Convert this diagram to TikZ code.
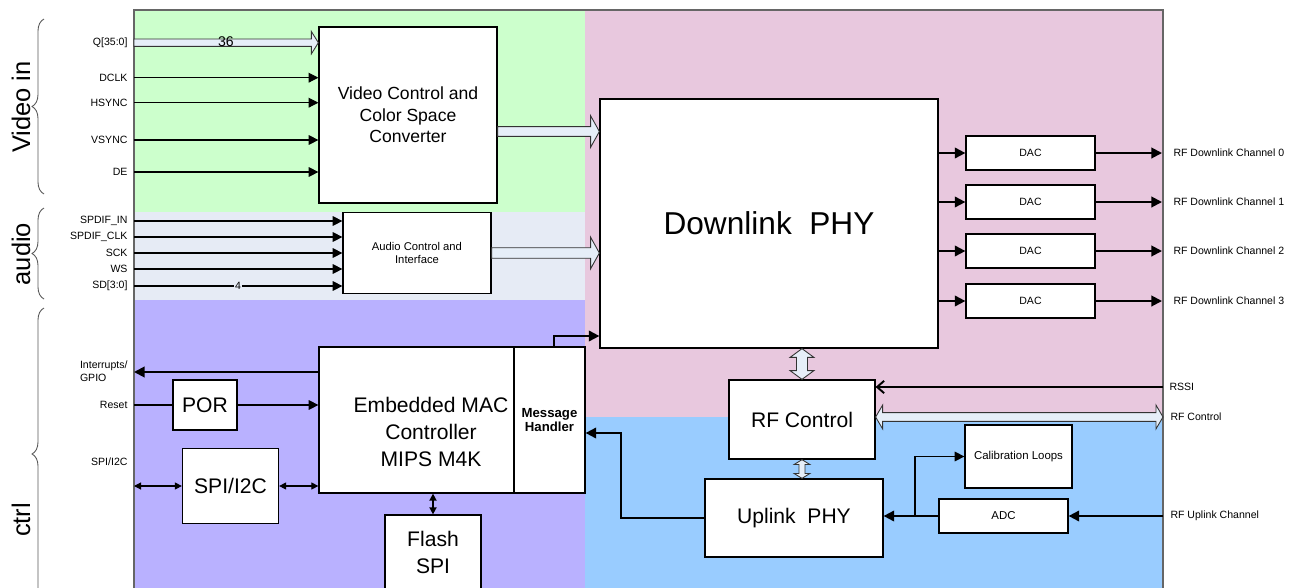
\documentclass[tikz,border=0pt]{standalone}
\usepackage{fontspec}
\setmainfont{Liberation Sans}
\usetikzlibrary{arrows.meta, decorations.pathreplacing, calc, positioning}

\definecolor{videobg}{HTML}{CCFFCC}
\definecolor{audiobg}{HTML}{E6EBF5}
\definecolor{ctrlbg}{HTML}{B9B1FF}
\definecolor{dlbg}{HTML}{E8C8DE}
\definecolor{ulbg}{HTML}{99CCFF}
\definecolor{busfill}{HTML}{E6EEF8}

% hollow bus arrows: #1 from, #2 to, #3 shaft half, #4 head half, #5 head length
\newcommand{\hbus}[5]{%
  \path[bus] let \p1=(#1), \p2=(#2) in
    (\x1,\y1+#3) -- (\x2-#5,\y1+#3) -- (\x2-#5,\y1+#4) -- (\x2,\y1)
    -- (\x2-#5,\y1-#4) -- (\x2-#5,\y1-#3) -- (\x1,\y1-#3) -- cycle;}
\newcommand{\hdbus}[5]{%
  \path[bus] let \p1=(#1), \p2=(#2) in
    (\x1,\y1) -- (\x1+#5,\y1+#4) -- (\x1+#5,\y1+#3) -- (\x2-#5,\y1+#3)
    -- (\x2-#5,\y1+#4) -- (\x2,\y1) -- (\x2-#5,\y1-#4) -- (\x2-#5,\y1-#3)
    -- (\x1+#5,\y1-#3) -- (\x1+#5,\y1-#4) -- cycle;}
\newcommand{\vdbus}[5]{%
  \path[bus] let \p1=(#1), \p2=(#2) in
    (\x1,\y1) -- (\x1+#4,\y1-#5) -- (\x1+#3,\y1-#5) -- (\x1+#3,\y2+#5)
    -- (\x1+#4,\y2+#5) -- (\x1,\y2) -- (\x1-#4,\y2+#5) -- (\x1-#3,\y2+#5)
    -- (\x1-#3,\y1-#5) -- (\x1-#4,\y1-#5) -- cycle;}

\begin{document}
\begin{tikzpicture}[x=0.2mm, y=-0.2mm]
\tikzstyle{block} = [rectangle, draw, fill=white, line width=0.7pt, inner sep=1pt, align=center]
\tikzstyle{dacbox} = [block, minimum width=25.8mm, minimum height=6.8mm, font={\fontsize{6}{7}\selectfont}]
\tikzstyle{sig} = [draw, line width=0.6pt, -{Triangle[length=5.5pt, width=5.5pt]}]
\tikzstyle{thk} = [draw, line width=1.1pt, -{Triangle[length=6pt, width=6pt]}]
\tikzstyle{dsig} = [draw, line width=0.6pt, {Triangle[length=4pt, width=4pt]}-{Triangle[length=4pt, width=4pt]}]
\tikzstyle{bus} = [draw=black!80, fill=busfill, line width=0.5pt]
\tikzstyle{lbl} = [font={\fontsize{6}{7}\selectfont}, inner xsep=3.5pt, inner ysep=0pt]
\tikzstyle{sidelbl} = [font={\fontsize{14.5}{16}\selectfont}, rotate=90]
\tikzstyle{bracestyle} = [draw=black!65, line width=0.5pt, decorate, decoration={brace, amplitude=2.4mm}]

\useasboundingbox (0,0) rectangle (1300,588);

% regions
\fill[videobg] (134,10) rectangle (585,212);
\fill[audiobg] (134,212) rectangle (585,300);
\fill[ctrlbg] (134,300) rectangle (585,588);
\fill[dlbg] (585,10) rectangle (1163,417);
\fill[ulbg] (585,417) rectangle (1163,588);
\draw[black!60, line width=0.8pt] (134,590) -- (134,10) -- (1163,10) -- (1163,590);

% group braces
\draw[bracestyle] (44,194) -- (44,19);
\draw[bracestyle] (44,299) -- (44,208);
\draw[bracestyle] (44,600) -- (44,308);
\node[sidelbl] (vidlbl) at (21,107) {Video in};
\node[sidelbl] (audlbl) at (21,254) {audio};
\node[sidelbl] (ctrllbl) at (21,520) {ctrl};

% video in
\node[block, minimum width=35.6mm, minimum height=35.2mm, font={\fontsize{10}{12.2}\selectfont}] (vcc) at (408,115) {Video Control and\\Color Space\\Converter};
\node[lbl, anchor=east] (qin) at (134,42.7) {Q[35:0]};
\node[lbl, anchor=east] (dclk) at (134,77.7) {DCLK};
\node[lbl, anchor=east] (hsync) at (134,102.7) {HSYNC};
\node[lbl, anchor=east] (vsync) at (134,140) {VSYNC};
\node[lbl, anchor=east] (de) at (134,172) {DE};
\hbus{qin.east}{vcc.west |- qin.east}{2.1pt}{6.4pt}{4pt}
\node[font={\fontsize{8}{9}\selectfont}, inner sep=0pt] (qwidth) at (226,42) {36};
\path[sig] (dclk.east) -- (vcc.west |- dclk.east);
\path[sig] (hsync.east) -- (vcc.west |- hsync.east);
\path[sig] (vsync.east) -- (vcc.west |- vsync.east);
\path[sig] (de.east) -- (vcc.west |- de.east);

% audio
\node[block, minimum width=29.6mm, minimum height=16.2mm, font={\fontsize{6.4}{7.6}\selectfont}] (aci) at (417,253) {Audio Control and\\Interface};
\node[lbl, anchor=east] (spdin) at (134,221) {SPDIF\_IN};
\node[lbl, anchor=east] (spdclk) at (134,237) {SPDIF\_CLK};
\node[lbl, anchor=east] (sck) at (134,253) {SCK};
\node[lbl, anchor=east] (ws) at (134,269) {WS};
\node[lbl, anchor=east] (sd) at (134,286) {SD[3:0]};
\path[sig] (spdin.east) -- (aci.west |- spdin.east);
\path[sig] (spdclk.east) -- (aci.west |- spdclk.east);
\path[sig] (sck.east) -- (aci.west |- sck.east);
\path[sig] (ws.east) -- (aci.west |- ws.east);
\path[sig] (sd.east) -- (aci.west |- sd.east);
\node[lbl, fill=audiobg, inner xsep=0.6pt, inner ysep=0.3pt] (sdw) at (238,286) {4};

% downlink
\node[block, minimum width=67.6mm, minimum height=49.8mm, font={\fontsize{18}{20}\selectfont}] (dlphy) at (769,223.5) {Downlink~~PHY};
\hbus{vcc.east |- 0,131.5}{dlphy.west |- 0,131.5}{2.8pt}{9pt}{5pt}
\hbus{aci.east}{dlphy.west |- aci.east}{3pt}{9pt}{5pt}

\node[dacbox] (dac0) at (1030.5,153) {DAC};
\node[dacbox] (dac1) at (1030.5,202) {DAC};
\node[dacbox] (dac2) at (1030.5,251) {DAC};
\node[dacbox] (dac3) at (1030.5,301) {DAC};
\coordinate (rfd0) at (1162,153);
\coordinate (rfd1) at (1162,202);
\coordinate (rfd2) at (1162,251);
\coordinate (rfd3) at (1162,301);
\path[thk] (dlphy.east |- dac0.west) -- (dac0.west);
\path[thk] (dlphy.east |- dac1.west) -- (dac1.west);
\path[thk] (dlphy.east |- dac2.west) -- (dac2.west);
\path[thk] (dlphy.east |- dac3.west) -- (dac3.west);
\path[thk] (dac0.east) -- (rfd0);
\path[thk] (dac1.east) -- (rfd1);
\path[thk] (dac2.east) -- (rfd2);
\path[thk] (dac3.east) -- (rfd3);
\node[lbl, anchor=west] (rfd0l) at (1167,153) {RF Downlink Channel 0};
\node[lbl, anchor=west] (rfd1l) at (1167,202) {RF Downlink Channel 1};
\node[lbl, anchor=west] (rfd2l) at (1167,251) {RF Downlink Channel 2};
\node[lbl, anchor=west] (rfd3l) at (1167,301) {RF Downlink Channel 3};

% control
\node[block, minimum width=39mm, minimum height=29.2mm] (mac) at (416.5,420) {};
\node[font={\fontsize{12}{15.3}\selectfont}, align=center] (mactxt) at (431,432) {Embedded MAC\\Controller\\MIPS M4K};
\node[block, minimum width=14.2mm, minimum height=29.2mm, font={\bfseries\fontsize{7.5}{8.5}\selectfont}] (msgh) at (549.5,420) {Message\\Handler};

\node[lbl, anchor=east, align=left, font={\fontsize{6}{7.4}\selectfont}] (intr) at (134,371.5) {Interrupts/\\GPIO};
\coordinate (intc) at (134,372);
\path[thk] (mac.west |- intc) -- (intc);

\node[lbl, anchor=east] (rst) at (134,405) {Reset};
\node[block, minimum width=12.8mm, minimum height=10mm, font={\fontsize{12}{14}\selectfont}] (por) at (205,405) {POR};
\draw[line width=0.6pt] (rst.east) -- (por.west);
\path[sig] (por.east) -- (mac.west |- por.east);

\node[lbl, anchor=east] (spil) at (134,462) {SPI/I2C};
\node[block, minimum width=19.2mm, minimum height=15mm, font={\fontsize{12}{14}\selectfont}] (spi) at (230.5,486) {SPI/I2C};
\coordinate (spic) at (134,486);
\path[dsig] (spic) -- (spi.west);
\path[dsig] (spi.east) -- (mac.west |- spi.east);

\node[block, minimum width=19.2mm, minimum height=15mm, font={\fontsize{12}{15.3}\selectfont}] (flash) at (433,552.5) {Flash\\SPI};
\path[dsig, line width=0.9pt] (mac.south -| flash.north) -- (flash.north);

\path[thk] ([xshift=0.9mm]msgh.north) |- (dlphy.west |- 0,336);

% RF / uplink
\node[block, minimum width=29.2mm, minimum height=15.8mm, font={\fontsize{12}{14}\selectfont}] (rfc) at (802,419.5) {RF Control};
\node[block, minimum width=35.6mm, minimum height=15.6mm, font={\fontsize{12}{14}\selectfont}] (upphy) at (794,518) {Uplink~~PHY};
\node[block, minimum width=21.4mm, minimum height=12.6mm, font={\fontsize{6.5}{7.5}\selectfont}] (cal) at (1018.5,456.5) {Calibration Loops};
\node[block, minimum width=25.8mm, minimum height=6.8mm, font={\fontsize{6.5}{7.5}\selectfont}] (adc) at (1003.5,516) {ADC};

\vdbus{rfc.north |- dlphy.south}{rfc.north}{3.1pt}{6.8pt}{5pt}
\vdbus{rfc.south}{upphy.north -| rfc.south}{1.7pt}{4.5pt}{2.8pt}
\coordinate (rfcc) at (1163,417);
\hdbus{rfc.east |- rfcc}{rfcc}{2.5pt}{6.8pt}{4pt}

\coordinate (rssic) at (1163,387);
\path[draw, line width=1.1pt, -{Straight Barb[length=4pt, width=7pt]}] (rssic) -- (rfc.east |- rssic);

\coordinate (ulbend) at (621,433);
\path[thk] (upphy.west) -| (ulbend) -- (msgh.east |- ulbend);

\path[thk] (adc.west) -- (upphy.east |- adc.west);
\coordinate (calsplit) at (915,516);
\path[sig] (calsplit) |- (cal.west);
\coordinate (rfuc) at (1163,516);
\path[thk] (rfuc) -- (adc.east);

\node[lbl, anchor=west] (rssil) at (1163,387) {RSSI};
\node[lbl, anchor=west] (rfcl) at (1164,417) {RF Control};
\node[lbl, anchor=west] (rful) at (1164,516) {RF Uplink Channel};
\end{tikzpicture}
\end{document}
